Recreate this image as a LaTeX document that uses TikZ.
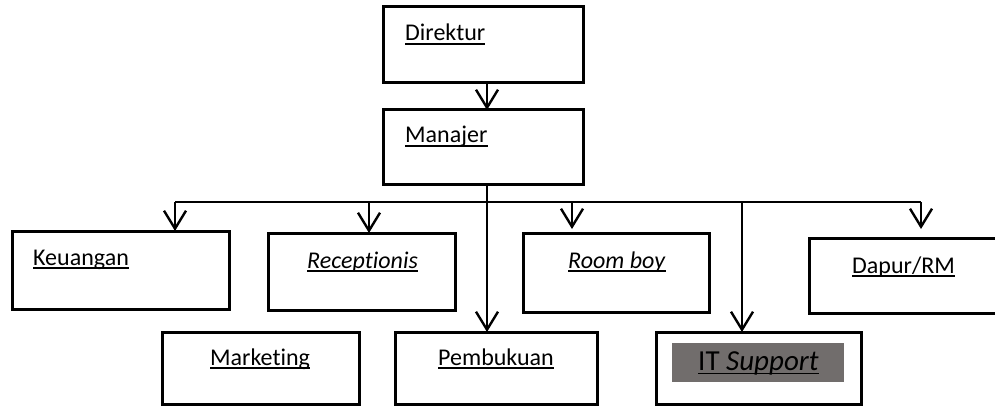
\documentclass[tikz,border=0pt]{standalone}
\usepackage{fontspec}
\setmainfont{Carlito}[Ligatures=NoCommon]
\usetikzlibrary{arrows.meta}
\definecolor{itgray}{HTML}{716D6C}
\begin{document}
\begin{tikzpicture}[x=1pt,y=-1pt,
  box/.style={draw, line width=3pt, inner sep=0pt, outer sep=0pt, anchor=north west},
  lbl/.style={inner sep=0pt, anchor=base west, font=\fontsize{24}{28}\selectfont},
  ul/.style={line width=1.6pt},
  arr/.style={line width=2.2pt, -{Straight Barb[length=18pt,width=22pt,line width=2.4pt]}},
  bus/.style={line width=1.6pt}]
\useasboundingbox[fill=white] (0,0) rectangle (995,406);
% boxes
\node[box, minimum width=200pt, minimum height=76pt] (dir) at (383,7) {};
\node[box, minimum width=200pt, minimum height=75pt] (man) at (383,110) {};
\node[box, minimum width=217pt, minimum height=78pt] (keu) at (12,231) {};
\node[box, minimum width=187pt, minimum height=77pt] (rec) at (268,233) {};
\node[box, minimum width=186pt, minimum height=79pt] (room) at (523,233) {};
\node[box, minimum width=200pt, minimum height=75pt] (dap) at (809,238) {};
\node[box, minimum width=197pt, minimum height=72pt] (mkt) at (162,332) {};
\node[box, minimum width=202pt, minimum height=72pt] (pem) at (395,332) {};
\node[box, minimum width=205pt, minimum height=72pt] (its) at (656,332) {};
\node[fill=itgray, inner sep=0pt, anchor=north west, minimum width=172pt, minimum height=39pt] (itfill) at (672,343) {};
% labels
\node[lbl] (dirT) at (405,41) {Direktur};
\node[lbl] (manT) at (405,143) {Manajer};
\node[lbl] (keuT) at (33,265) {Keuangan};
\node[lbl] (recT) at (307,268) {\textit{Receptionis}};
\node[lbl] (roomT) at (568,268) {\textit{Room boy}};
\node[lbl] (dapT) at (852,273) {Dapur/RM};
\node[lbl] (mktT) at (210,365) {Marketing};
\node[lbl] (pemT) at (438,365) {Pembukuan};
\node[lbl, font=\fontsize{29}{32}\selectfont] (itsT) at (698,370) {IT \textit{Support}};
\foreach \n in {dirT,manT,keuT,recT,roomT,dapT,mktT,pemT}
  \draw[ul] ([yshift=-3pt]\n.base west) -- ([yshift=-3pt]\n.base east);
\draw[ul] ([yshift=-3.5pt]itsT.base west) -- ([yshift=-3.5pt]itsT.base east);
% connectors
\coordinate (trunk) at (487,202);
\coordinate (bk) at (175,202);
\coordinate (br) at (369,202);
\coordinate (bro) at (572,202);
\coordinate (bit) at (742,202);
\coordinate (bd) at (921,202);
\draw[arr] (dir.south -| trunk) -- (man.north -| trunk);
\draw[bus] (bk) -- (bd);
\draw[arr] (man.south -| trunk) -- (pem.north -| trunk);
\draw[arr] (bk) -- (bk |- keu.north);
\draw[arr] (br) -- (br |- rec.north);
\draw[arr] (bro) -- ([yshift=4pt]bro |- room.north);
\draw[arr] (bit) -- (bit |- its.north);
\draw[arr] (bd) -- ([yshift=9pt]bd |- dap.north);
\end{tikzpicture}
\end{document}
